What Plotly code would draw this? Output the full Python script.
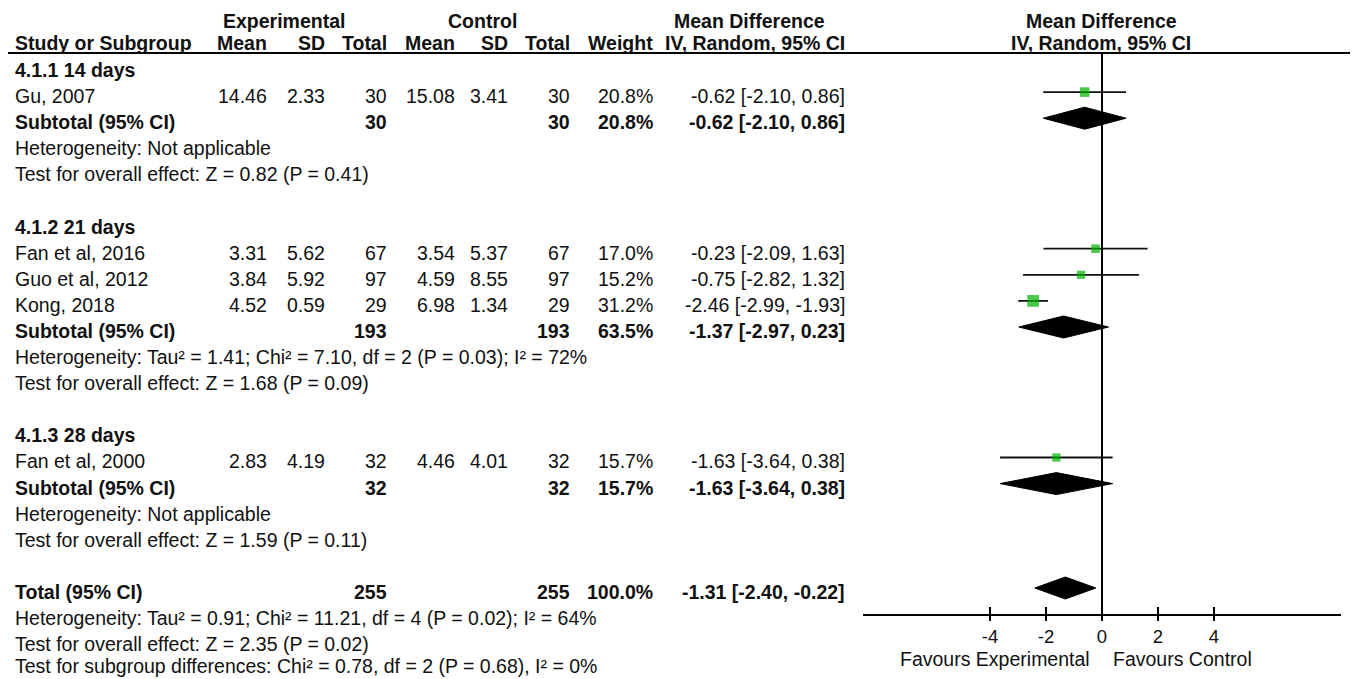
import numpy as np
import plotly.graph_objects as go

# ---- data ----
groups = ["4.1.1 14 days", "4.1.2 21 days", "4.1.3 28 days"]

studies = ["Gu, 2007", "Fan et al, 2016", "Guo et al, 2012", "Kong, 2018", "Fan et al, 2000"]
study_group = [0, 1, 1, 1, 2]
exp_mean = [14.46, 3.31, 3.84, 4.52, 2.83]
exp_sd = [2.33, 5.62, 5.92, 0.59, 4.19]
exp_n = [30, 67, 97, 29, 32]
ctl_mean = [15.08, 3.54, 4.59, 6.98, 4.46]
ctl_sd = [3.41, 5.37, 8.55, 1.34, 4.01]
ctl_n = [30, 67, 97, 29, 32]
weight = [20.8, 17.0, 15.2, 31.2, 15.7]
md = [-0.62, -0.23, -0.75, -2.46, -1.63]
md_lo = [-2.10, -2.09, -2.82, -2.99, -3.64]
md_hi = [0.86, 1.63, 1.32, -1.93, 0.38]

sub_n_exp = [30, 193, 32]
sub_n_ctl = [30, 193, 32]
sub_weight = [20.8, 63.5, 15.7]
sub_md = [-0.62, -1.37, -1.63]
sub_lo = [-2.10, -2.97, -3.64]
sub_hi = [0.86, 0.23, 0.38]
sub_het = ["Heterogeneity: Not applicable",
           "Heterogeneity: Tau² = 1.41; Chi² = 7.10, df = 2 (P = 0.03); I² = 72%",
           "Heterogeneity: Not applicable"]
sub_z = ["Test for overall effect: Z = 0.82 (P = 0.41)",
         "Test for overall effect: Z = 1.68 (P = 0.09)",
         "Test for overall effect: Z = 1.59 (P = 0.11)"]

total_n_exp = 255
total_n_ctl = 255
total_weight = 100.0
total_md = -1.31
total_lo = -2.40
total_hi = -0.22
total_notes = ["Heterogeneity: Tau² = 0.91; Chi² = 11.21, df = 4 (P = 0.02); I² = 64%",
               "Test for overall effect: Z = 2.35 (P = 0.02)",
               "Test for subgroup differences: Chi² = 0.78, df = 2 (P = 0.68), I² = 0%"]

tick_vals = [-4, -2, 0, 2, 4]
tick_text = ["-4", "-2", "0", "2", "4"]
favours = ["Favours Experimental", "Favours Control"]

# ---- layout helpers (reference pixels; page body adds an 8px margin) ----
OFF = 8
W, H = 1358 - OFF, 679 - OFF
ROW0, ROW = 66, 26.1     # pixel centre of row 0, row pitch
TOP, BOTTOM = 53, 614    # header rule, x axis line
TEXT_DY = 4
FONT = "Liberation Sans, Arial, sans-serif"
FS = 19.5
INK = "#111111"
GREEN = "#00b000"

col_right = {"exp_mean": 269, "exp_sd": 327, "exp_n": 389,
             "ctl_mean": 457, "ctl_sd": 510, "ctl_n": 572,
             "weight": 655, "md": 847}
LEFT = 13


def px_x(px):
    return (px - OFF) / W


def px_y(px):
    return 1 - (px - OFF) / H


def to_row(px):
    return (px - ROW0) / ROW


annotations = []


def txt(xpx, ypx, s, anchor="left", bold=False, xref="paper", yanchor="middle"):
    annotations.append(dict(
        x=px_x(xpx) if xref == "paper" else xpx, xref=xref,
        y=px_y(ypx), yref="paper",
        text=f"<b>{s}</b>" if bold else s,
        xanchor=anchor, yanchor=yanchor, showarrow=False,
        font=dict(family=FONT, size=FS, color=INK)))


def row_px(r):
    return ROW0 + ROW * r + TEXT_DY


def ci(m, lo, hi):
    return f"{m:.2f} [{lo:.2f}, {hi:.2f}]"


# headers (top row hugs the page edge)
for xh, lab in [(284, "Experimental"), (482, "Control"),
                (750, "Mean Difference"), (1101, "Mean Difference")]:
    txt(xh, OFF, lab, "center", True, yanchor="top")
txt(LEFT, 43, "Study or Subgroup", "left", True)
for key, lab in [("exp_mean", "Mean"), ("exp_sd", "SD"), ("exp_n", "Total"),
                 ("ctl_mean", "Mean"), ("ctl_sd", "SD"), ("ctl_n", "Total"),
                 ("weight", "Weight"), ("md", "IV, Random, 95% CI")]:
    txt(col_right[key], 43, lab, "right", True)
txt(1101, 43, "IV, Random, 95% CI", "center", True)

# rows
study_rows, sub_rows = [], []
r = 0
for g, gname in enumerate(groups):
    txt(LEFT, row_px(r), gname, bold=True)
    r += 1
    for i, s in enumerate(studies):
        if study_group[i] != g:
            continue
        y = row_px(r)
        txt(LEFT, y, s)
        txt(col_right["exp_mean"], y, f"{exp_mean[i]:.2f}", "right")
        txt(col_right["exp_sd"], y, f"{exp_sd[i]:.2f}", "right")
        txt(col_right["exp_n"], y, f"{exp_n[i]}", "right")
        txt(col_right["ctl_mean"], y, f"{ctl_mean[i]:.2f}", "right")
        txt(col_right["ctl_sd"], y, f"{ctl_sd[i]:.2f}", "right")
        txt(col_right["ctl_n"], y, f"{ctl_n[i]}", "right")
        txt(col_right["weight"], y, f"{weight[i]:.1f}%", "right")
        txt(col_right["md"], y, ci(md[i], md_lo[i], md_hi[i]), "right")
        study_rows.append(r)
        r += 1
    y = row_px(r)
    txt(LEFT, y, "Subtotal (95% CI)", bold=True)
    txt(col_right["exp_n"], y, f"{sub_n_exp[g]}", "right", True)
    txt(col_right["ctl_n"], y, f"{sub_n_ctl[g]}", "right", True)
    txt(col_right["weight"], y, f"{sub_weight[g]:.1f}%", "right", True)
    txt(col_right["md"], y, ci(sub_md[g], sub_lo[g], sub_hi[g]), "right", True)
    sub_rows.append(r)
    r += 1
    txt(LEFT, row_px(r), sub_het[g])
    r += 1
    txt(LEFT, row_px(r), sub_z[g])
    r += 2

total_row = r
y = row_px(r)
txt(LEFT, y, "Total (95% CI)", bold=True)
txt(col_right["exp_n"], y, f"{total_n_exp}", "right", True)
txt(col_right["ctl_n"], y, f"{total_n_ctl}", "right", True)
txt(col_right["weight"], y, f"{total_weight:.1f}%", "right", True)
txt(col_right["md"], y, ci(total_md, total_lo, total_hi), "right", True)
for k, note in enumerate(total_notes[:-1]):
    txt(LEFT, row_px(r + 1 + k), note)
# last line sits on the bottom edge of the page
txt(LEFT, 679, total_notes[-1], yanchor="bottom")

txt(-0.36, 659, favours[0], "right", xref="x")
txt(0.32, 659, favours[1], "left", xref="x")

fig = go.Figure()

# confidence intervals
cx, cy = [], []
for i, rr in enumerate(study_rows):
    cx += [md_lo[i], md_hi[i], None]
    cy += [rr, rr, None]
fig.add_trace(go.Scatter(x=cx, y=cy, mode="lines",
                         line=dict(color=INK, width=1.8), hoverinfo="skip"))

# pooled diamonds
HALF = 11 / ROW
dx, dy = [], []
for m, lo, hi, rr in zip(sub_md + [total_md], sub_lo + [total_lo],
                         sub_hi + [total_hi], sub_rows + [total_row]):
    dx += [lo, m, hi, m, lo, None]
    dy += [rr, rr - HALF, rr, rr + HALF, rr, None]
fig.add_trace(go.Scatter(x=dx, y=dy, mode="lines", fill="toself",
                         fillcolor="black", line=dict(color="black", width=1),
                         hoverinfo="skip"))

# study squares (area ~ weight)
fig.add_trace(go.Scatter(x=md, y=study_rows, mode="markers", xaxis="x2",
                         marker=dict(symbol="square", color=GREEN,
                                     size=[2.1 * np.sqrt(w) for w in weight],
                                     line=dict(width=0))))

x0, x1 = 863, 1341
half_range = (x1 - x0) / 2 / 28.0
ydom = [px_y(BOTTOM), px_y(TOP)]
axis_common = dict(domain=[px_x(x0), px_x(x1)], range=[-half_range, half_range],
                   tickvals=tick_vals, ticktext=tick_text, showgrid=False,
                   tickwidth=1.8, tickcolor="black", anchor="y")

fig.update_layout(
    width=W, height=H, margin=dict(l=0, r=0, t=0, b=0),
    paper_bgcolor="white", plot_bgcolor="white", showlegend=False,
    xaxis=dict(**axis_common, ticks="outside", ticklen=5, showline=True,
               linecolor="black", linewidth=2, zeroline=True,
               zerolinecolor="black", zerolinewidth=2,
               tickfont=dict(family=FONT, size=18.5, color=INK)),
    xaxis2=dict(**axis_common, overlaying="x", ticks="inside", ticklen=7,
                showticklabels=False, zeroline=False, showline=False),
    yaxis=dict(domain=ydom, range=[to_row(BOTTOM), to_row(TOP)],
               visible=False, showgrid=False, zeroline=False),
    annotations=annotations,
    shapes=[dict(type="line", xref="paper", yref="paper", x0=0, x1=1,
                 y0=ydom[1], y1=ydom[1], line=dict(color="black", width=2))],
)

fig.write_html("out.html")
